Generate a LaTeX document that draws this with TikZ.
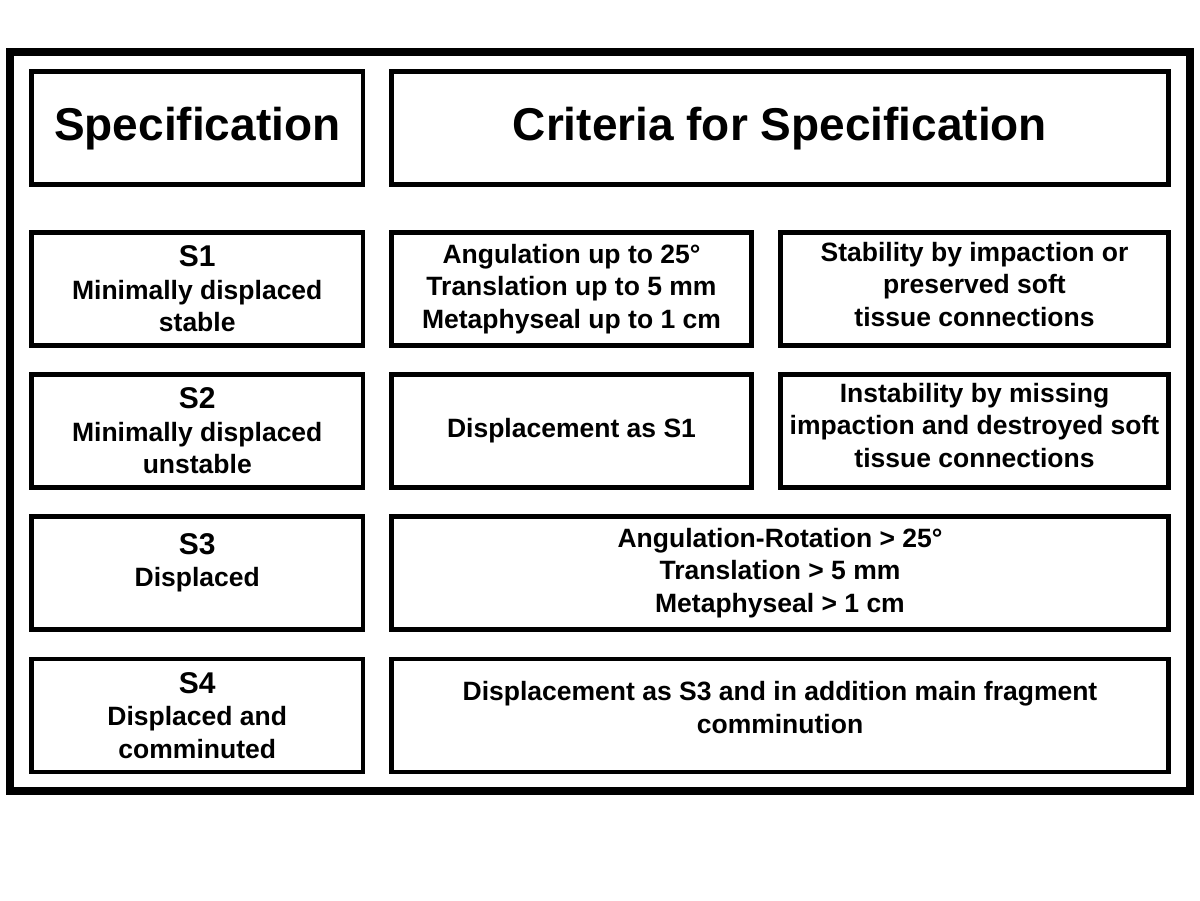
\documentclass[tikz,border=0pt]{standalone}
\usepackage{fontspec}
\setmainfont{Liberation Sans}
\usetikzlibrary{positioning}
\newcommand{\slabel}[1]{{\fontsize{30}{33}\selectfont #1}}

\begin{document}
\begin{tikzpicture}[
    x=1pt, y=-1pt,
    nosep/.style={inner sep=0, outer sep=0},
    cell/.style={nosep, draw, line width=4.5pt, align=center, minimum height=113pt,
        font=\bfseries\fontsize{26.5}{32.5}\selectfont},
    head/.style={cell, font=\bfseries\fontsize{46}{52}\selectfont},
    colA/.style={minimum width=331.5pt},
    colB/.style={minimum width=360pt},
    colC/.style={minimum width=388pt},
    colBC/.style={minimum width=777pt}]
\useasboundingbox (0,0) rectangle (1200,901);
\draw[line width=8pt] (10,52.5) rectangle (1189.5,791);

% header
\node[head, colA] (spec) at (197.25,128.25) {Specification};
\node[head, colBC, right=28.5pt of spec] (crit) {Criteria for Specification};

% S1
\node[cell, colA] (s1) at (197.25,289) {\slabel{S1}\\Minimally displaced\\stable};
\node[cell, colB, right=28.5pt of s1] (s1disp) {Angulation up to 25°\\Translation up to 5 mm\\Metaphyseal up to 1 cm};
\node[cell, colC, right=29pt of s1disp, text depth=10pt] (s1stab) {Stability by impaction or\\preserved soft\\tissue connections};

% S2
\node[cell, colA] (s2) at (197.25,431) {\slabel{S2}\\Minimally displaced\\unstable};
\node[cell, colB, right=28.5pt of s2] (s2disp) {Displacement as S1};
\node[cell, colC, right=29pt of s2disp, text depth=12pt] (s2stab) {Instability by missing\\impaction and destroyed soft\\tissue connections};

% S3
\node[cell, colA, text depth=26pt] (s3) at (197.25,573) {\slabel{S3}\\Displaced};
\node[cell, colBC, right=28.5pt of s3] (s3disp) {Angulation-Rotation > 25°\\Translation > 5 mm\\Metaphyseal > 1 cm};

% S4
\node[cell, colA] (s4) at (197.25,715.5) {\slabel{S4}\\Displaced and\\comminuted};
\node[cell, colBC, right=28.5pt of s4, text depth=16pt] (s4disp) {Displacement as S3 and in addition main fragment\\comminution};

\end{tikzpicture}
\end{document}
